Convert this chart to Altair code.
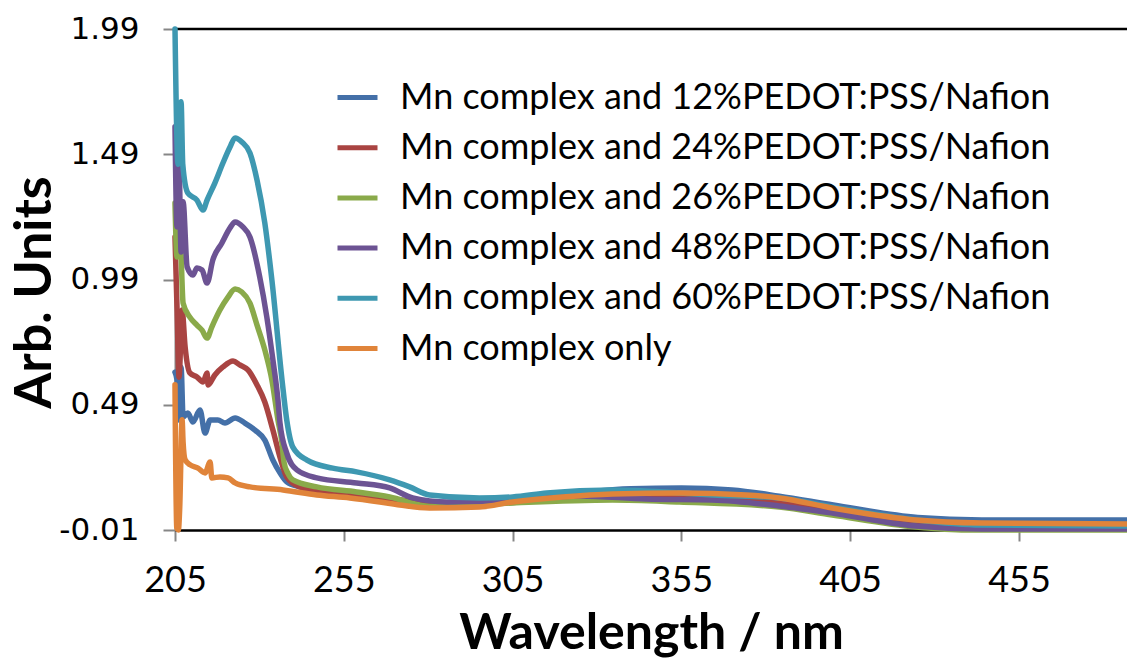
import altair as alt
import pandas as pd

series_names = [
    "Mn complex and 12%PEDOT:PSS/Nafion",
    "Mn complex and 24%PEDOT:PSS/Nafion",
    "Mn complex and 26%PEDOT:PSS/Nafion",
    "Mn complex and 48%PEDOT:PSS/Nafion",
    "Mn complex and 60%PEDOT:PSS/Nafion",
    "Mn complex only",
]
colors = ["#4470A8", "#A94442", "#8AAA4A", "#6C5393", "#3E98B1", "#E0843A"]

w12 = [205.0, 205.6, 206.2, 206.8, 207.4, 208.8, 210.3, 212.4, 213.9, 215.4, 217.7, 219.8, 222.8, 225.7, 228.7, 231.6, 234.0, 236.1, 238.1, 242.0, 258.8, 285.5, 305.0, 325.0, 340.0, 355.0, 370.0, 384.0, 400.0, 425.0, 444.0, 487.0]
v12 = [0.62, 0.589, 0.429, 0.64, 0.441, 0.457, 0.421, 0.469, 0.377, 0.429, 0.429, 0.417, 0.437, 0.417, 0.389, 0.349, 0.269, 0.218, 0.182, 0.162, 0.13, 0.095, 0.11, 0.14, 0.155, 0.158, 0.15, 0.125, 0.09, 0.04, 0.03, 0.03]

w24 = [205.0, 205.6, 206.2, 207.1, 208.0, 209.4, 211.5, 213.3, 214.5, 214.8, 216.8, 219.2, 222.2, 224.2, 226.6, 229.3, 231.6, 234.0, 236.1, 238.1, 242.0, 248.8, 258.8, 271.6, 285.5, 305.0, 335.0, 355.0, 384.0, 400.0, 424.5, 444.0, 487.0]
v24 = [1.16, 0.876, 0.60, 0.868, 0.72, 0.617, 0.601, 0.581, 0.617, 0.569, 0.609, 0.641, 0.665, 0.649, 0.629, 0.569, 0.501, 0.389, 0.281, 0.202, 0.162, 0.142, 0.13, 0.11, 0.09, 0.10, 0.125, 0.12, 0.10, 0.066, 0.02, 0.004, 0.0]

w26 = [205.0, 205.6, 206.5, 207.4, 209.4, 211.5, 213.0, 214.5, 215.9, 218.3, 220.7, 222.8, 224.8, 227.2, 229.3, 231.6, 233.7, 235.5, 236.7, 237.3, 238.5, 239.9, 247.0, 258.8, 268.6, 280.4, 290.0, 305.0, 334.6, 354.4, 384.0, 399.7, 424.5, 439.3, 487.0]
v26 = [1.295, 1.08, 1.16, 0.896, 0.84, 0.808, 0.788, 0.756, 0.80, 0.868, 0.92, 0.952, 0.94, 0.896, 0.808, 0.709, 0.589, 0.429, 0.337, 0.26, 0.215, 0.19, 0.162, 0.142, 0.122, 0.085, 0.088, 0.098, 0.11, 0.102, 0.082, 0.05, 0.002, -0.01, -0.01]

w48 = [205.0, 205.6, 206.2, 206.8, 207.4, 208.6, 210.3, 211.5, 213.0, 214.5, 216.2, 218.9, 221.3, 222.8, 225.1, 227.2, 230.1, 232.2, 234.0, 235.5, 236.1, 238.1, 241.1, 247.0, 258.8, 268.6, 275.4, 285.5, 305.0, 324.8, 344.6, 364.2, 384.0, 399.7, 424.5, 444.0, 487.0]
v48 = [1.60, 1.20, 1.45, 1.10, 1.30, 1.04, 1.008, 1.036, 1.028, 0.976, 1.068, 1.136, 1.196, 1.22, 1.20, 1.16, 1.0, 0.84, 0.669, 0.509, 0.417, 0.297, 0.23, 0.198, 0.178, 0.158, 0.118, 0.102, 0.11, 0.126, 0.114, 0.11, 0.086, 0.058, 0.006, -0.006, -0.006]

w60 = [205.0, 205.9, 206.8, 207.3, 208.8, 211.5, 213.3, 214.5, 216.8, 219.2, 221.3, 222.8, 224.8, 227.2, 229.3, 231.6, 233.7, 236.7, 238.1, 239.9, 244.1, 251.7, 258.8, 268.6, 274.5, 280.4, 295.2, 305.0, 315.1, 334.6, 354.4, 364.2, 384.0, 399.7, 424.5, 444.0, 487.0]
v60 = [1.99, 1.45, 1.70, 1.45, 1.335, 1.307, 1.267, 1.307, 1.375, 1.455, 1.519, 1.555, 1.539, 1.495, 1.387, 1.216, 0.988, 0.589, 0.429, 0.321, 0.269, 0.237, 0.222, 0.19, 0.162, 0.13, 0.118, 0.122, 0.138, 0.15, 0.138, 0.13, 0.118, 0.082, 0.03, 0.01, 0.006]

w_only = [205.0, 205.5, 206.0, 206.4, 207.1, 207.4, 208.0, 209.5, 211.8, 213.9, 215.4, 215.9, 218.3, 220.7, 222.8, 227.2, 237.0, 247.0, 256.8, 265.7, 271.6, 280.4, 295.2, 305.0, 319.8, 334.6, 354.4, 374.2, 384.0, 399.7, 424.5, 444.0, 487.0]
v_only = [0.57, 0.0, -0.01, 0.08, 0.43, 0.34, 0.27, 0.25, 0.237, 0.218, 0.261, 0.198, 0.202, 0.198, 0.178, 0.162, 0.15, 0.13, 0.118, 0.102, 0.09, 0.078, 0.082, 0.102, 0.122, 0.134, 0.138, 0.13, 0.118, 0.078, 0.03, 0.018, 0.014]

x_ticks = [205, 255, 305, 355, 405, 455]
y_ticks = [-0.01, 0.49, 0.99, 1.49, 1.99]

all_w = [w12, w24, w26, w48, w60, w_only]
all_v = [v12, v24, v26, v48, v60, v_only]
rows = []
for i, (ws, vs) in enumerate(zip(all_w, all_v)):
    for k, (a, b) in enumerate(zip(ws, vs)):
        rows.append({"series": series_names[i], "wl": a, "val": b, "k": k})
df = pd.DataFrame(rows)

W, H = 952, 501

lines = alt.Chart(df).mark_line(strokeWidth=5.5, strokeJoin="round", strokeCap="round",
                                interpolate="monotone").encode(
    x=alt.X("wl:Q", scale=alt.Scale(domain=[205, 487], nice=False, zero=False),
            axis=alt.Axis(values=x_ticks, format="d", title="Wavelength / nm",
                          grid=False, domainColor="black", domainWidth=2.5,
                          tickColor="#868686", tickWidth=2, tickSize=11,
                          labelFont="Lato", labelFontSize=36, labelColor="black",
                          labelPadding=22, labelFlush=False,
                          titleFont="Lato", titleFontSize=50, titleFontWeight="bold",
                          titleColor="black", titlePadding=10)),
    y=alt.Y("val:Q", scale=alt.Scale(domain=[-0.01, 1.99], nice=False, zero=False),
            axis=alt.Axis(values=y_ticks, title="Arb. Units",
                          labelExpr="replace(format(datum.value, '.2f'), '\u2212', '-')",
                          grid=False, domainColor="#868686", domainWidth=2,
                          tickColor="#868686", tickWidth=2, tickSize=12,
                          labelFont="DejaVu Sans", labelFontSize=31, labelColor="black",
                          labelPadding=24, labelFlush=False,
                          titleFont="Lato", titleFontSize=52, titleFontWeight="bold",
                          titleColor="black", titleX=-141, titleY=263,
                          titleBaseline="middle", titleAlign="center", titleAngle=270)),
    color=alt.Color("series:N", sort=series_names,
                    scale=alt.Scale(domain=series_names, range=colors),
                    legend=alt.Legend(title=None, orient="none", legendX=160, legendY=46,
                                      symbolType="stroke", symbolSize=1600, symbolStrokeWidth=5,
                                      labelFont="Lato", labelFontSize=36, labelColor="black",
                                      labelOffset=20, rowPadding=9.2, padding=0,
                                      labelLimit=1000)),
    order=alt.Order("k:Q"),
)

top = alt.Chart(pd.DataFrame({"a": [0]})).mark_rule(color="black", strokeWidth=2.5).encode(
    x=alt.value(0), x2=alt.value(W), y=alt.value(0)
)

chart = alt.layer(top, lines).properties(
    width=W, height=H,
    autosize=alt.AutoSizeParams(type="none"),
    padding={"left": 175, "top": 29, "right": 0, "bottom": 128},
).configure_view(stroke=None).configure(background="white")

chart.save("out.html", embed_options={"renderer": "svg", "actions": False})
